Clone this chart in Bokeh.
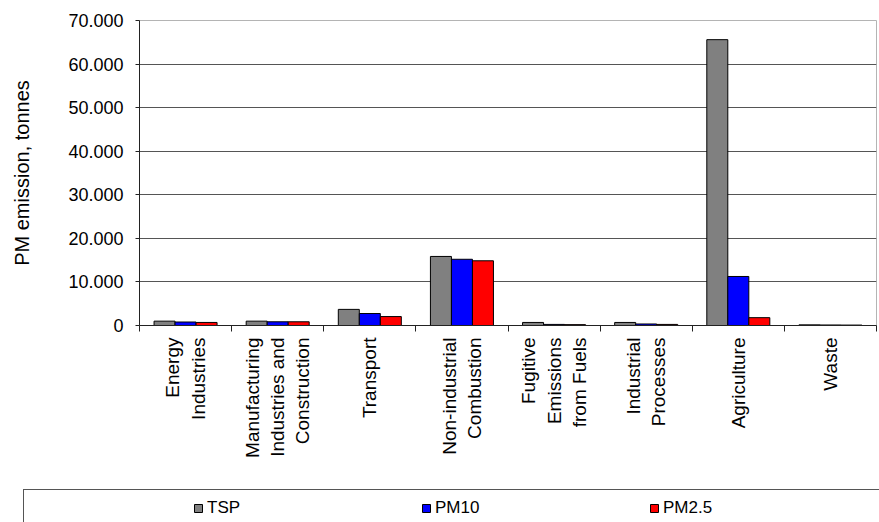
from bokeh.plotting import figure
from bokeh.models import (Range1d, LinearAxis, FixedTicker, Spacer,
                          Legend, LegendItem, ColumnDataSource)
from bokeh.layouts import column, row
from bokeh.transform import dodge
from bokeh.embed import file_html
from bokeh.resources import INLINE

# ---- data ----
categories = ["Energy\nIndustries",
              "Manufacturing\nIndustries and\nConstruction",
              "Transport",
              "Non-industrial\nCombustion",
              "Fugitive\nEmissions\nfrom Fuels",
              "Industrial\nProcesses",
              "Agriculture",
              "Waste"]
tsp = [1000, 1000, 3700, 15850, 700, 700, 65600, 150]
pm10 = [800, 850, 2750, 15200, 250, 350, 11250, 120]
pm25 = [700, 850, 2050, 14850, 200, 250, 1800, 100]
series_names = ["TSP", "PM10", "PM2.5"]
series_colors = ["#808080", "#0000FF", "#FF0000"]
y_ticks = [0, 10000, 20000, 30000, 40000, 50000, 60000, 70000]
y_tick_labels = ["0", "10.000", "20.000", "30.000", "40.000", "50.000", "60.000", "70.000"]
y_title = "PM emission, tonnes"

FONT = "Liberation Sans"
n = len(categories)
centers = [i + 0.5 for i in range(n)]
bounds = list(range(n + 1))

W = 879
p = figure(width=W, height=490,
           x_range=Range1d(0, n),
           y_range=Range1d(y_ticks[0], y_ticks[-1]),
           x_axis_location=None,
           output_backend="svg", toolbar_location=None,
           min_border_left=139, min_border_right=3,
           min_border_top=20, min_border_bottom=165,
           outline_line_color="#b4b4b4")

src = ColumnDataSource(dict(pos=centers, cat=categories, TSP=tsp, PM10=pm10, PM25=pm25))
fields = ["TSP", "PM10", "PM25"]
bw = 0.228
for i, (f, c) in enumerate(zip(fields, series_colors)):
    p.vbar(x=dodge("pos", (i - 1) * bw), top=f, width=bw,
           source=src, fill_color=c, line_color="black", line_width=1)

# y axis
yax = p.yaxis[0]
yax.ticker = FixedTicker(ticks=y_ticks)
yax.major_label_overrides = {t: l for t, l in zip(y_ticks, y_tick_labels)}
yax.major_label_text_font = FONT
yax.major_label_text_font_size = "18px"
yax.major_label_text_color = "black"
yax.major_label_standoff = 12
yax.major_tick_in = 0
yax.major_tick_out = 4
yax.minor_tick_line_color = None
yax.axis_line_color = "#222222"
yax.major_tick_line_color = "#222222"
yax.axis_label = y_title
yax.axis_label_text_font = FONT
yax.axis_label_text_font_size = "20px"
yax.axis_label_text_font_style = "normal"
yax.axis_label_text_color = "black"
yax.axis_label_standoff = 32

p.ygrid.ticker = FixedTicker(ticks=y_ticks)
p.ygrid.grid_line_color = "#555555"
p.xgrid.visible = False

# x axis: labels at category centres, ticks at category boundaries
xax = LinearAxis(ticker=FixedTicker(ticks=centers, minor_ticks=bounds),
                 major_label_overrides={c: l for c, l in zip(centers, categories)},
                 major_tick_line_color=None, major_tick_in=0, major_tick_out=6,
                 minor_tick_in=0, minor_tick_out=6, minor_tick_line_color="#222222",
                 axis_line_color="#222222",
                 major_label_orientation=1.5707963,
                 major_label_standoff=6,
                 major_label_text_font=FONT,
                 major_label_text_font_size="19px",
                 major_label_text_color="black")
p.add_layout(xax, "below")

# ---- legend strip (box whose right/bottom run past the page) ----
# y range far above the data, so the proxy bars used for the legend stay out of view
p2 = figure(width=W - 24, height=32, x_range=Range1d(0, n), y_range=Range1d(1e6, 2e6),
            x_axis_location=None, y_axis_location=None,
            output_backend="svg", toolbar_location=None,
            outline_line_color=None,
            min_border_left=115, min_border_right=0, min_border_top=0, min_border_bottom=0,
            styles={"outline": "1px solid #555555"})
p2.grid.visible = False
leg_rends = []
for i, (f, c) in enumerate(zip(fields, series_colors)):
    r = p2.vbar(x=dodge("pos", (i - 1) * bw), top=f, width=bw,
                source=src, fill_color=c, line_color="black", line_width=1)
    leg_rends.append(r)

items = [LegendItem(label=nm, renderers=[r]) for nm, r in zip(series_names, leg_rends)]
legend = Legend(items=items, orientation="horizontal", location=(54, 4),
                glyph_width=10, glyph_height=10, label_standoff=4,
                label_width=214, spacing=0, padding=0, margin=0,
                border_line_color=None, background_fill_alpha=0,
                label_text_font=FONT, label_text_font_size="17px",
                label_text_color="black")
p2.add_layout(legend)

layout = column(p, row(Spacer(width=24, height=32), p2, spacing=0), spacing=0)
open("out.html", "w").write(file_html(layout, INLINE))
